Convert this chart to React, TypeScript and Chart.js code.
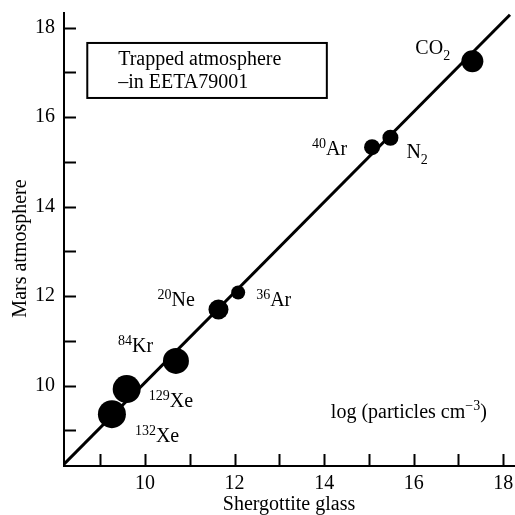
import { useEffect, useRef } from 'react';
import { Chart, registerables } from 'chart.js';

Chart.register(...registerables);

// ---- data ----
const glassLog = [9.26, 9.59, 10.69, 11.64, 12.08, 15.07, 15.48, 17.31];
const marsLog = [9.36, 9.92, 10.55, 11.7, 12.08, 15.33, 15.54, 17.25];
const massNumbers = ['132', '129', '84', '20', '36', '40', '', ''];
const speciesNames = ['Xe', 'Xe', 'Kr', 'Ne', 'Ar', 'Ar', 'N', 'CO'];
const speciesSubscripts = ['', '', '', '', '', '', '2', '2'];
const fitLineX = [8.19, 18.15];
const fitLineY = [8.24, 18.29];
const xTickValues = [9, 10, 11, 12, 13, 14, 15, 16, 17, 18];
const yTickValues = [9, 10, 11, 12, 13, 14, 15, 16, 17, 18];
const labeledTicks = [10, 12, 14, 16, 18];
const boxLines = ['Trapped atmosphere', '\u2013in EETA79001'];
const unitsMain = 'log (particles cm';
const unitsSup = '\u22123';
const unitsTail = ')';
const xTitle = 'Shergottite glass';
const yTitle = 'Mars atmosphere';

// ---- styles / placement ----
const FONT = '"Liberation Serif", "Times New Roman", serif';
const pointRadii = [14, 14, 13, 10, 7, 8, 8, 11];
const labelOffsets: [number, number][] = [
  [23, 28], [22, 18], [-58, -9], [-61, -3], [18, 14], [-60, 8], [16, 20], [-57, -7],
];
const boxPlace = { x0: 8.71, x1: 14.06, y0: 17.66, y1: 16.43, textX: 9.4, textY: [17.17, 16.66] };
const unitsPlace = { x: 14.15, y: 9.27 };

function drawRich(ctx: CanvasRenderingContext2D, x: number, y: number, sup: string, base: string, sub: string) {
  let cx = x;
  ctx.textAlign = 'left';
  ctx.textBaseline = 'alphabetic';
  if (sup) {
    ctx.font = `14px ${FONT}`;
    ctx.fillText(sup, cx, y - 7);
    cx += ctx.measureText(sup).width;
  }
  ctx.font = `20px ${FONT}`;
  ctx.fillText(base, cx, y);
  cx += ctx.measureText(base).width;
  if (sub) {
    ctx.font = `14px ${FONT}`;
    ctx.fillText(sub, cx, y + 6);
  }
}

const decorPlugin = {
  id: 'decor',
  afterDraw(chart: any) {
    const ctx = chart.ctx as CanvasRenderingContext2D;
    const xs = chart.scales.x;
    const ys = chart.scales.y;
    const area = chart.chartArea;
    ctx.save();
    ctx.strokeStyle = '#000';
    ctx.fillStyle = '#000';
    ctx.lineWidth = 2;
    // inward tick marks
    xTickValues.forEach((v) => {
      const px = Math.round(xs.getPixelForValue(v)) + 0.5;
      ctx.beginPath();
      ctx.moveTo(px, area.bottom);
      ctx.lineTo(px, area.bottom - 12);
      ctx.stroke();
    });
    yTickValues.forEach((v) => {
      const py = Math.round(ys.getPixelForValue(v)) + 0.5;
      ctx.beginPath();
      ctx.moveTo(area.left, py);
      ctx.lineTo(area.left + 12, py);
      ctx.stroke();
    });
    // y axis title
    ctx.save();
    ctx.translate(21, (area.top + area.bottom) / 2 + 9);
    ctx.rotate(-Math.PI / 2);
    ctx.font = `20px ${FONT}`;
    ctx.textAlign = 'center';
    ctx.textBaseline = 'middle';
    ctx.fillText(yTitle, 0, 0);
    ctx.restore();
    // species labels
    const meta = chart.getDatasetMeta(1);
    meta.data.forEach((pt: any, i: number) => {
      const [dx, dy] = labelOffsets[i];
      drawRich(ctx, pt.x + dx, pt.y + dy, massNumbers[i], speciesNames[i], speciesSubscripts[i]);
    });
    // legend-like box
    const bx0 = xs.getPixelForValue(boxPlace.x0);
    const bx1 = xs.getPixelForValue(boxPlace.x1);
    const by0 = ys.getPixelForValue(boxPlace.y0);
    const by1 = ys.getPixelForValue(boxPlace.y1);
    ctx.lineWidth = 2;
    ctx.strokeRect(bx0, by0, bx1 - bx0, by1 - by0);
    ctx.font = `20px ${FONT}`;
    ctx.textAlign = 'left';
    ctx.textBaseline = 'alphabetic';
    boxLines.forEach((t, i) => {
      ctx.fillText(t, xs.getPixelForValue(boxPlace.textX), ys.getPixelForValue(boxPlace.textY[i]));
    });
    // units
    let ux = xs.getPixelForValue(unitsPlace.x);
    const uy = ys.getPixelForValue(unitsPlace.y);
    ctx.font = `20px ${FONT}`;
    ctx.fillText(unitsMain, ux, uy);
    ux += ctx.measureText(unitsMain).width;
    ctx.font = `14px ${FONT}`;
    ctx.fillText(unitsSup, ux, uy - 8);
    ux += ctx.measureText(unitsSup).width;
    ctx.font = `20px ${FONT}`;
    ctx.fillText(unitsTail, ux, uy);
    ctx.restore();
  },
};

export default function App() {
  const ref = useRef<HTMLCanvasElement>(null);
  useEffect(() => {
    if (!ref.current) return;
    const chart = new Chart(ref.current, {
      type: 'scatter',
      data: {
        datasets: [
          {
            type: 'line',
            data: fitLineX.map((x, i) => ({ x, y: fitLineY[i] })),
            borderColor: '#000',
            borderWidth: 3,
            pointRadius: 0,
            fill: false,
          } as any,
          {
            type: 'scatter',
            data: glassLog.map((x, i) => ({ x, y: marsLog[i] })),
            backgroundColor: '#000',
            borderWidth: 0,
            pointRadius: pointRadii,
            pointHoverRadius: pointRadii,
          } as any,
        ],
      },
      options: {
        animation: false,
        responsive: false,
        events: [],
        layout: { autoPadding: false, padding: { top: 13, right: 1, left: 0, bottom: 0 } },
        plugins: { legend: { display: false }, tooltip: { enabled: false } },
        scales: {
          x: {
            type: 'linear',
            min: 8.19,
            max: 18.24,
            grid: { display: false, drawTicks: false },
            border: { display: true, color: '#000', width: 2 },
            afterBuildTicks: (s: any) => { s.ticks = xTickValues.map((v) => ({ value: v })); },
            afterFit: (s: any) => { s.height = 49; s.paddingLeft = 0; s.paddingRight = 0; },
            ticks: {
              autoSkip: false,
              maxRotation: 0,
              padding: 6,
              color: '#000',
              font: { family: FONT, size: 20 },
              callback: (v: any) => (labeledTicks.includes(Number(v)) ? String(v) : ''),
            },
            title: {
              display: true,
              text: xTitle,
              color: '#000',
              font: { family: FONT, size: 20, lineHeight: 1 },
              padding: { top: 0, bottom: 0 },
            },
          },
          y: {
            type: 'linear',
            min: 8.2,
            max: 18.33,
            grid: { display: false, drawTicks: false },
            border: { display: true, color: '#000', width: 2 },
            afterBuildTicks: (s: any) => { s.ticks = yTickValues.map((v) => ({ value: v })); },
            afterFit: (s: any) => { s.width = 64; s.paddingTop = 0; s.paddingBottom = 0; },
            ticks: {
              autoSkip: false,
              padding: 9,
              color: '#000',
              font: { family: FONT, size: 20 },
              callback: (v: any) => (labeledTicks.includes(Number(v)) ? String(v) : ''),
            },
            title: { display: false },
          },
        },
      },
      plugins: [decorPlugin],
    });
    return () => chart.destroy();
  }, []);
  return (
    <div style={{ position: 'fixed', left: 0, top: 0, width: 515, height: 515, background: '#fff' }}>
      <canvas ref={ref} width={515} height={515} style={{ display: 'block' }} />
    </div>
  );
}
